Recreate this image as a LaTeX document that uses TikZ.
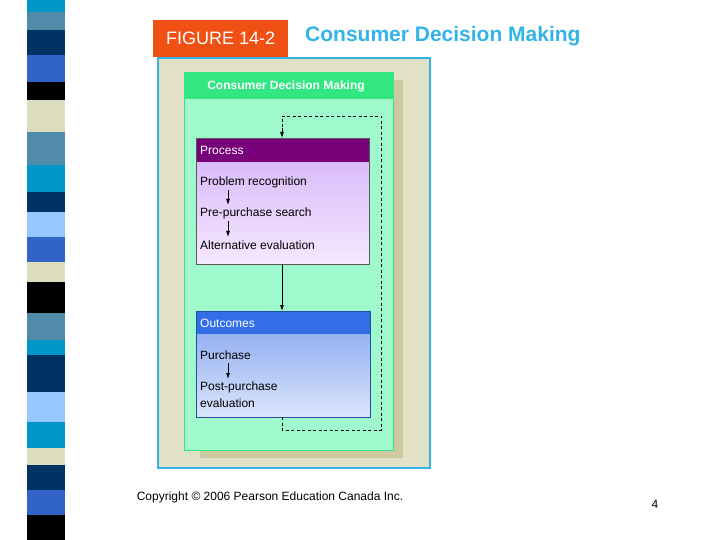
\documentclass[tikz,border=0pt]{standalone}
\usepackage{fontspec}
\setmainfont{Liberation Sans}
\begin{document}
\begin{tikzpicture}[x=1pt,y=-1pt,
  txt/.style={anchor=west,inner sep=0pt,font=\fontsize{12}{14}\selectfont},
  arr/.style={-{Latex[length=6pt,width=4pt]},thick},
  dsh/.style={thick,dash pattern=on 3pt off 2.5pt}]
\usetikzlibrary{arrows.meta}
\useasboundingbox (0,0) rectangle (720,540);
\fill[white] (0,0) rectangle (720,540);
% stripe
\foreach \a/\b/\c in {0/12/{0,150,200},12/30/{80,140,170},30/55/{0,50,100},55/82/{50,100,200},82/100/{0,0,0},100/132/{220,220,190},132/165/{80,140,170},165/192/{0,150,200},192/212/{0,50,100},212/237/{150,200,255},237/262/{50,100,200},262/282/{220,220,190},282/313/{0,0,0},313/340/{80,140,170},340/355/{0,150,200},355/392/{0,50,100},392/422/{150,200,255},422/448/{0,150,200},448/465/{220,220,190},465/490/{0,50,100},490/515/{50,100,200},515/540/{0,0,0}}
  {\definecolor{sc}{RGB}{\c}\fill[sc] (27,\a) rectangle (65,\b);}
% header
\definecolor{orng}{RGB}{240,80,20}
\definecolor{ttl}{RGB}{50,180,230}
\node[fill=orng,minimum width=135pt,minimum height=37pt,anchor=north west,text=white,font=\fontsize{18}{20}\selectfont] (fig) at (153,20) {FIGURE 14-2};
\node[anchor=west,text=ttl,font=\bfseries\fontsize{21}{24}\selectfont,inner sep=0pt] (title) at (305,36) {Consumer Decision Making};
% outer
\definecolor{tanbg}{RGB}{225,225,200}
\definecolor{shd}{RGB}{205,200,160}
\definecolor{grn}{RGB}{160,248,205}
\definecolor{grnh}{RGB}{50,230,130}
\fill[tanbg,draw=ttl,line width=2pt] (158,58) rectangle (430,468);
\fill[shd] (200,80) rectangle (403,458);
\fill[grn,draw=grnh,line width=1pt] (184,73) rectangle (393,450);
\fill[grnh] (184,73) rectangle (393,99);
\node[text=white,font=\bfseries\fontsize{12}{14}\selectfont] (hd) at (286,86) {Consumer Decision Making};
% process
\definecolor{purp}{RGB}{120,0,120}
\definecolor{lav1}{RGB}{218,188,250}
\definecolor{lav2}{RGB}{246,232,255}
\shade[top color=lav1,bottom color=lav2] (196,162) rectangle (369,264);
\fill[purp] (196,138) rectangle (369,162);
\draw[gray!70!black] (196,138) rectangle (369,264);
\node[txt,text=white] (proc) at (200,150) {Process};
\node[txt] (p1) at (200,182) {Problem recognition};
\node[txt] (p2) at (200,213) {Pre-purchase search};
\node[txt] (p3) at (200,245) {Alternative evaluation};
\draw[arr] (228,190) -- (228,205);
\draw[arr] (228,221) -- (228,237);
% outcomes
\definecolor{blu}{RGB}{50,110,230}
\definecolor{bl1}{RGB}{150,178,242}
\definecolor{bl2}{RGB}{218,228,252}
\shade[top color=bl1,bottom color=bl2] (196,334) rectangle (370,417);
\fill[blu] (196,311) rectangle (370,334);
\draw[blu!70!black] (196,311) rectangle (370,417);
\node[txt,text=white] (out) at (200,323) {Outcomes};
\node[txt] (o1) at (200,355) {Purchase};
\node[txt] (o2) at (200,387) {Post-purchase};
\node[txt] (o3) at (200,403) {evaluation};
\draw[arr] (228,363) -- (228,379);
\coordinate (pb) at (282,264);
\coordinate (ot) at (282,311);
\draw[arr] (pb) -- (ot);
\coordinate (ob) at (282,417);
\coordinate (pt) at (282,138);
\draw[dsh] (ob) -- (282,430) -- (381,430) -- (381,116) -- (282,116) -- (282,130);
\draw[arr] (282,128) -- (pt);
% footer
\node[font=\fontsize{12}{14}\selectfont] (copy) at (270,497) {Copyright © 2006 Pearson Education Canada Inc.};
\node[font=\fontsize{12}{14}\selectfont] (pg) at (655,504) {4};
\end{tikzpicture}
\end{document}
